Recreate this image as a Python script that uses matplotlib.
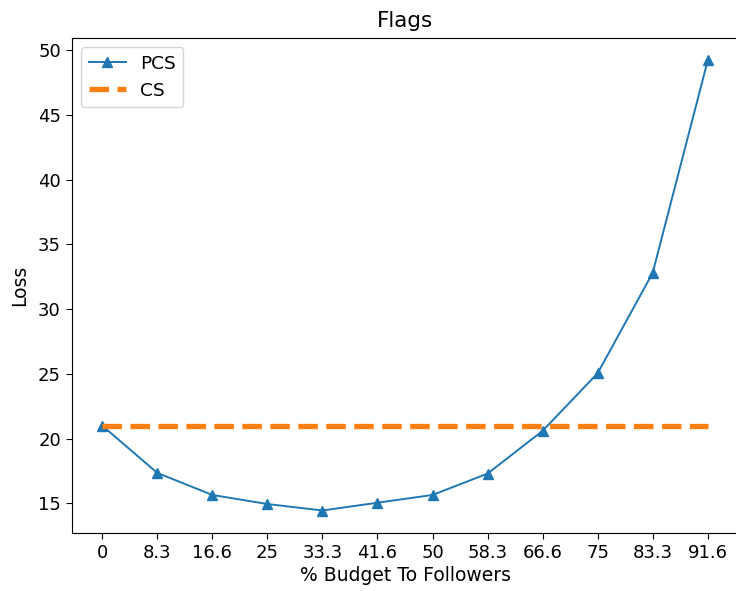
import matplotlib
matplotlib.use('Agg')
import matplotlib.pyplot as plt

# 数据
budget_labels = ['0', '8.3', '16.6', '25', '33.3', '41.6', '50', '58.3', '66.6', '75', '83.3', '91.6']
pcs_loss = [21.0, 17.35, 15.65, 14.95, 14.45, 15.05, 15.65, 17.3, 20.6, 25.05, 32.8, 49.2]
cs_loss = [21.0] * len(budget_labels)

x = list(range(len(budget_labels)))

fig = plt.figure(figsize=(7.36, 5.91), dpi=100)
ax = fig.add_axes([72 / 736, 58 / 591, 666 / 736, 495 / 591])
ax.plot(x, pcs_loss, marker='^', markersize=7.5, color='#1f77b4', linewidth=1.4, label='PCS')
ax.plot(x, cs_loss, linestyle='--', color='#ff7f0e', linewidth=3.8, label='CS')
ax.set_xticks(x)
ax.set_xticklabels(budget_labels)
ax.tick_params(labelsize=13, length=4.5)
ax.set_xlabel('% Budget To Followers', fontsize=13.5, labelpad=3)
ax.set_ylabel('Loss', fontsize=13.5, labelpad=6)
ax.set_title('Flags', fontsize=15.5, pad=8)
ax.legend(loc='upper left', fontsize=13.3)
fig.savefig('out.png', dpi=100)
